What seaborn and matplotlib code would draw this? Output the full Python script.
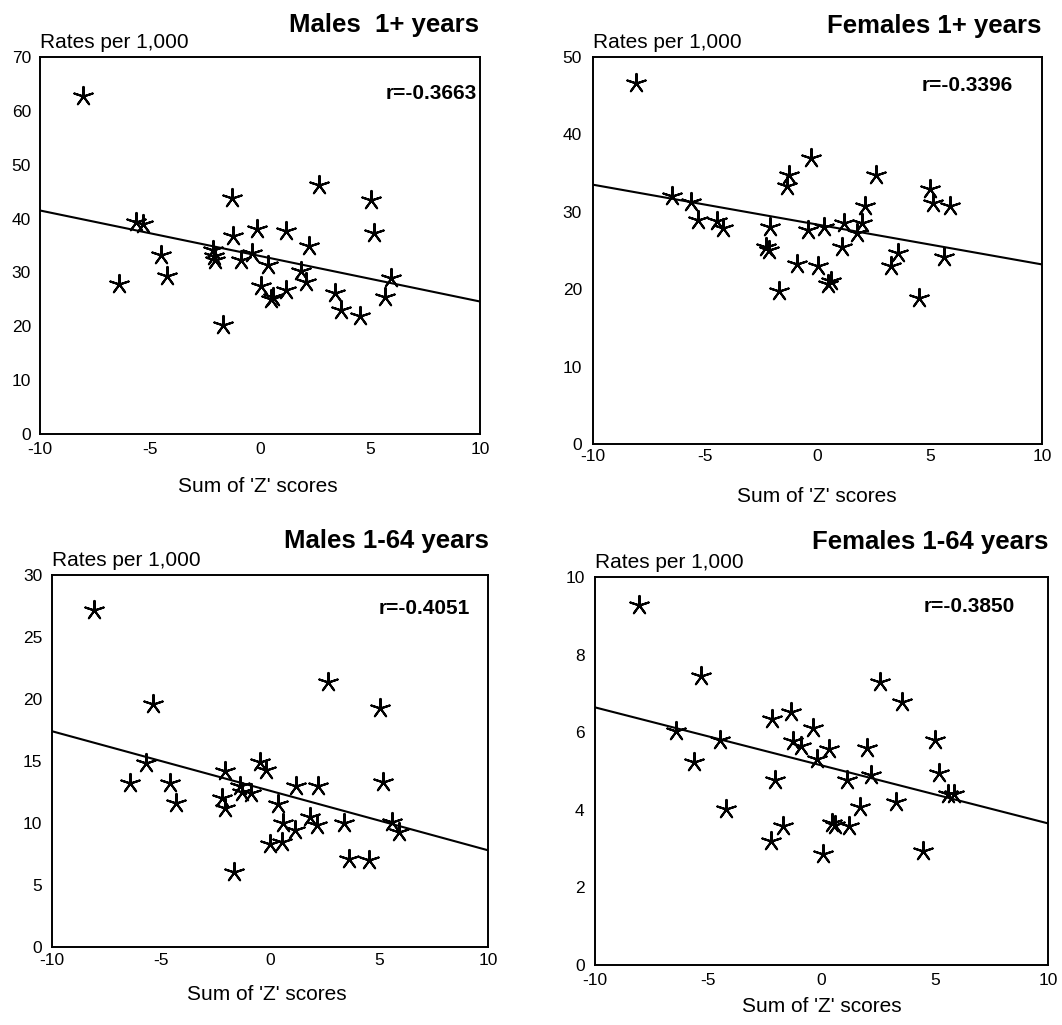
import matplotlib
matplotlib.use("Agg")
import matplotlib.pyplot as plt
import seaborn as sns

# ---------------- data ----------------
males_all_x = [-8.05, -6.39, -5.64, -5.34, -4.51, -4.21, -2.15, -2.10, -2.05, -1.66, -1.28, -1.25,
               -0.86, -0.38, -0.15, 0.04, 0.37, 0.50, 0.60, 1.16, 1.20, 1.85, 2.10, 2.21,
               2.66, 3.39, 3.66, 4.56, 5.04, 5.19, 5.67, 5.94]
males_all_y = [62.7, 27.8, 39.3, 38.9, 33.3, 29.4, 34.2, 33.0, 32.3, 20.2, 43.8, 36.8,
               32.4, 33.7, 38.0, 27.4, 31.4, 25.0, 25.5, 26.7, 37.6, 30.3, 28.3, 34.9,
               46.2, 26.1, 23.0, 21.9, 43.4, 37.3, 25.5, 28.9]

females_all_x = [-8.09, -6.46, -5.64, -5.34, -4.49, -4.22, -2.11, -2.29, -2.14, -1.73, -1.28, -1.36,
                 -0.91, -0.42, -0.31, 0.01, 0.31, 0.48, 0.58, 1.10, 1.18, 1.77, 2.00, 2.11,
                 2.59, 3.26, 3.59, 4.52, 5.01, 5.16, 5.64, 5.91]
females_all_y = [46.6, 32.1, 31.3, 29.0, 28.8, 27.9, 28.1, 25.5, 25.1, 19.8, 34.8, 33.3,
                 23.2, 27.7, 36.9, 23.0, 28.0, 20.7, 21.0, 25.5, 28.6, 27.3, 28.5, 30.8,
                 34.8, 23.0, 24.7, 18.9, 32.9, 31.1, 24.2, 30.8]

males_64_x = [-8.08, -5.35, -6.41, -5.68, -4.59, -4.32, -2.05, -2.20, -2.08, -1.65, -1.36, -1.29,
              -0.86, -0.45, -0.18, 0.00, 0.38, 0.53, 0.61, 1.14, 1.21, 1.82, 2.17, 2.20,
              2.65, 3.41, 3.64, 4.55, 5.03, 5.20, 5.61, 5.91]
males_64_y = [27.2, 19.6, 13.2, 14.8, 13.2, 11.6, 14.2, 12.0, 11.2, 6.05, 13.0, 12.5,
              12.4, 14.9, 14.3, 8.3, 11.5, 8.5, 10.0, 9.4, 13.0, 10.5, 9.8, 13.0,
              21.4, 10.0, 7.1, 7.0, 19.3, 13.3, 10.1, 9.3]

females_64_x = [-8.07, -6.42, -5.62, -5.32, -4.47, -4.23, -2.17, -2.07, -2.22, -1.72, -1.35, -1.27,
                -0.90, -0.37, -0.18, 0.05, 0.33, 0.45, 0.60, 1.12, 1.20, 1.72, 2.02, 2.17,
                2.59, 3.27, 3.57, 4.50, 5.00, 5.17, 5.59, 5.85]
females_64_y = [9.28, 6.04, 5.22, 7.46, 5.80, 4.02, 6.34, 4.77, 3.20, 3.59, 6.51, 5.77,
                5.65, 6.10, 5.31, 2.86, 5.57, 3.65, 3.60, 4.77, 3.57, 4.06, 5.59, 4.90,
                7.29, 4.19, 6.77, 2.94, 5.80, 4.94, 4.42, 4.41]

line_x = [-10, 10]
males_all_line = [41.5, 24.6]
females_all_line = [33.5, 23.2]
males_64_line = [17.4, 7.8]
females_64_line = [6.64, 3.65]

titles = ["Males  1+ years", "Females 1+ years", "Males 1-64 years", "Females 1-64 years"]
r_labels = ["r=-0.3663", "r=-0.3396", "r=-0.4051", "r=-0.3850"]
y_ticks = [[0, 10, 20, 30, 40, 50, 60, 70], [0, 10, 20, 30, 40, 50],
           [0, 5, 10, 15, 20, 25, 30], [0, 2, 4, 6, 8, 10]]
x_ticks = [-10, -5, 0, 5, 10]
y_label = "Rates per 1,000"
x_label = "Sum of 'Z' scores"

# ---------------- layout (pixels) ----------------
W, H = 1062, 1025
layout = [
    dict(box=(40, 57, 480, 434), title=(479, 32), rates=(40, 48), r=(477, 99), xl=(258, 492), xpad=5.5, ypad=6.5),
    dict(box=(593, 57, 1042, 444), title=(1041, 33), rates=(593, 48), r=(1013, 91), xl=(817, 502), xpad=3.5, ypad=8.0),
    dict(box=(52, 575, 488, 947), title=(489, 548), rates=(52, 566), r=(470, 614), xl=(267, 1000), xpad=4.5, ypad=7.0),
    dict(box=(595, 577, 1048, 965), title=(1048, 549), rates=(595, 568), r=(1015, 612), xl=(822, 1012), xpad=5.5, ypad=7.5),
]

sns.set_theme(style="white")
plt.rcParams['font.family'] = ['Liberation Sans', 'DejaVu Sans']
plt.rcParams['axes.unicode_minus'] = False

fig = plt.figure(figsize=(W / 100, H / 100), dpi=100)
fig.patch.set_facecolor("white")

xs = [males_all_x, females_all_x, males_64_x, females_64_x]
ys = [males_all_y, females_all_y, males_64_y, females_64_y]
lines = [males_all_line, females_all_line, males_64_line, females_64_line]

def fx(px):
    return px / W

def fy(py):
    return 1 - py / H

for i in range(4):
    L = layout[i]
    l, t, r, b = L["box"]
    ax = fig.add_axes([l / W, 1 - b / H, (r - l) / W, (b - t) / H])
    sns.lineplot(x=line_x, y=lines[i], color="black", linewidth=1.5, ax=ax)
    sns.scatterplot(x=xs[i], y=ys[i], marker=(5, 2, 0), s=190, color="black",
                    linewidth=1.5, ax=ax, legend=False, zorder=3)
    ax.set_xlim(-10, 10)
    ax.set_ylim(0, y_ticks[i][-1])
    ax.set_xticks(x_ticks)
    ax.set_xticklabels([str(v) for v in x_ticks])
    ax.set_yticks(y_ticks[i])
    ax.set_yticklabels([str(v) for v in y_ticks[i]])
    ax.set_xlabel("")
    ax.set_ylabel("")
    for sp in ax.spines.values():
        sp.set_visible(True)
        sp.set_color("black")
        sp.set_linewidth(1.4)
    ax.tick_params(axis="x", direction="in", length=5, width=1.0, colors="black",
                   labelsize=12.5, pad=L["xpad"])
    ax.tick_params(axis="y", direction="in", length=3, width=0.8, colors="black",
                   labelsize=12.5, pad=L["ypad"])
    ax.set_facecolor("white")

    tx, ty = L["title"]
    fig.text(fx(tx), fy(ty), titles[i], ha="right", va="baseline",
             fontsize=18.5, fontweight="bold", color="black")
    rx, ry = L["rates"]
    fig.text(fx(rx), fy(ry), y_label, ha="left", va="baseline", fontsize=15, color="black")
    qx, qy = L["r"]
    fig.text(fx(qx), fy(qy), r_labels[i], ha="right", va="baseline",
             fontsize=15, fontweight="bold", color="black")
    lx, ly = L["xl"]
    fig.text(fx(lx), fy(ly), x_label, ha="center", va="baseline", fontsize=15, color="black")

fig.savefig("out.png", dpi=100, facecolor="white")
